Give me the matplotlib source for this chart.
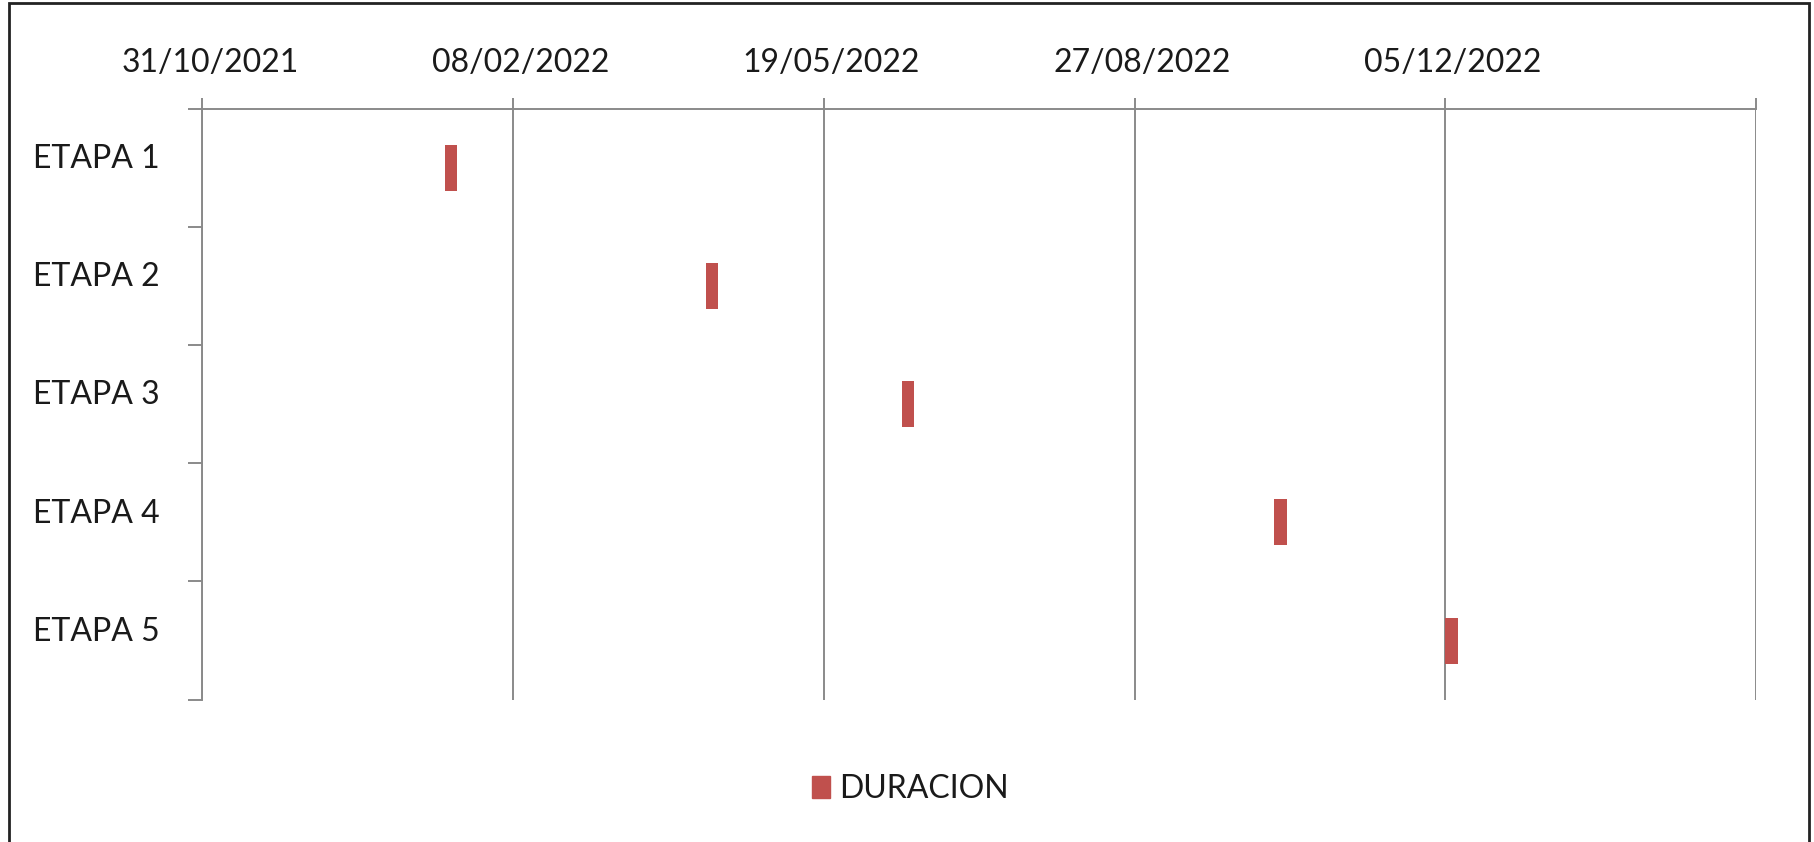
import datetime as dt
import matplotlib
matplotlib.use('Agg')
import matplotlib.dates as mdates
import matplotlib.transforms as mtransforms
from matplotlib import pyplot as plt
from matplotlib.patches import Rectangle, Patch

plt.rcParams['font.family'] = ['Lato', 'DejaVu Sans']

# Gantt data: stage names, start dates and duration in days
etapas = ['ETAPA 1', 'ETAPA 2', 'ETAPA 3', 'ETAPA 4', 'ETAPA 5']
inicio = ['17/01/2022', '11/04/2022', '13/06/2022', '11/10/2022', '05/12/2022']
duracion = [4, 4, 4, 4, 4]

# axis runs from the first date in steps of 100 days
eje_inicio = '31/10/2021'
paso_dias = 100
n_pasos = 5

RED = '#C0504D'
GRID = '#8a8a8a'
TXT = '#1a1a1a'


def to_num(s):
    return mdates.date2num(dt.datetime.strptime(s, '%d/%m/%Y'))


fig = plt.figure(figsize=(18.14, 8.42), dpi=100)
ax = fig.add_axes([0.1116, 0.169, 0.968 - 0.1116, 0.871 - 0.169])

starts = [to_num(s) for s in inicio]
ypos = list(range(len(etapas)))
ax.barh(ypos, duracion, left=starts, height=0.39, color=RED, zorder=3)

x0 = to_num(eje_inicio)
ticks = [x0 + i * paso_dias for i in range(n_pasos + 1)]
labels = [mdates.num2date(t).strftime('%d/%m/%Y') for t in ticks[:-1]] + ['']
ax.set_xlim(ticks[0], ticks[-1])
ax.set_xticks(ticks)
ax.set_xticklabels(labels)
ax.xaxis.tick_top()
ax.tick_params(axis='x', direction='out', length=8, width=1.4, color=GRID,
               labelsize=23, labelcolor=TXT, pad=14)
ax.grid(axis='x', color=GRID, linewidth=1.4, zorder=1)

ax.set_ylim(len(etapas) - 0.5, -0.5)
ax.set_yticks(ypos)
ax.set_yticklabels(etapas, ha='left')
ax.set_yticks([y - 0.5 for y in range(len(etapas) + 1)], minor=True)
ax.tick_params(axis='y', which='major', length=0, labelsize=23,
               labelcolor=TXT, pad=122)
ax.tick_params(axis='y', which='minor', direction='out', length=10,
               width=1.4, color=GRID)

# date labels sit slightly right of their gridline,
# stage names a little above the middle of each row
dx = mtransforms.ScaledTranslation(5.5 / 72, 0, fig.dpi_scale_trans)
for lab in ax.get_xticklabels():
    lab.set_transform(lab.get_transform() + dx)
dy = mtransforms.ScaledTranslation(0, 8.5 / 72, fig.dpi_scale_trans)
for lab in ax.get_yticklabels():
    lab.set_transform(lab.get_transform() + dy)

for side in ['right', 'bottom']:
    ax.spines[side].set_visible(False)
for side in ['top', 'left']:
    ax.spines[side].set_color(GRID)
    ax.spines[side].set_linewidth(1.4)

fig.legend(handles=[Patch(color=RED, label='DURACION')], loc='center',
           bbox_to_anchor=(0.502, 0.063), frameon=False, fontsize=23,
           handlelength=0.55, handleheight=0.7, handletextpad=0.3,
           labelcolor=TXT)

# outer chart frame
fig.patches.append(Rectangle((0.005, -0.02), 0.992, 1.016,
                             transform=fig.transFigure, fill=False,
                             edgecolor='#222222', linewidth=2.0))

fig.savefig('out.png', dpi=100)
